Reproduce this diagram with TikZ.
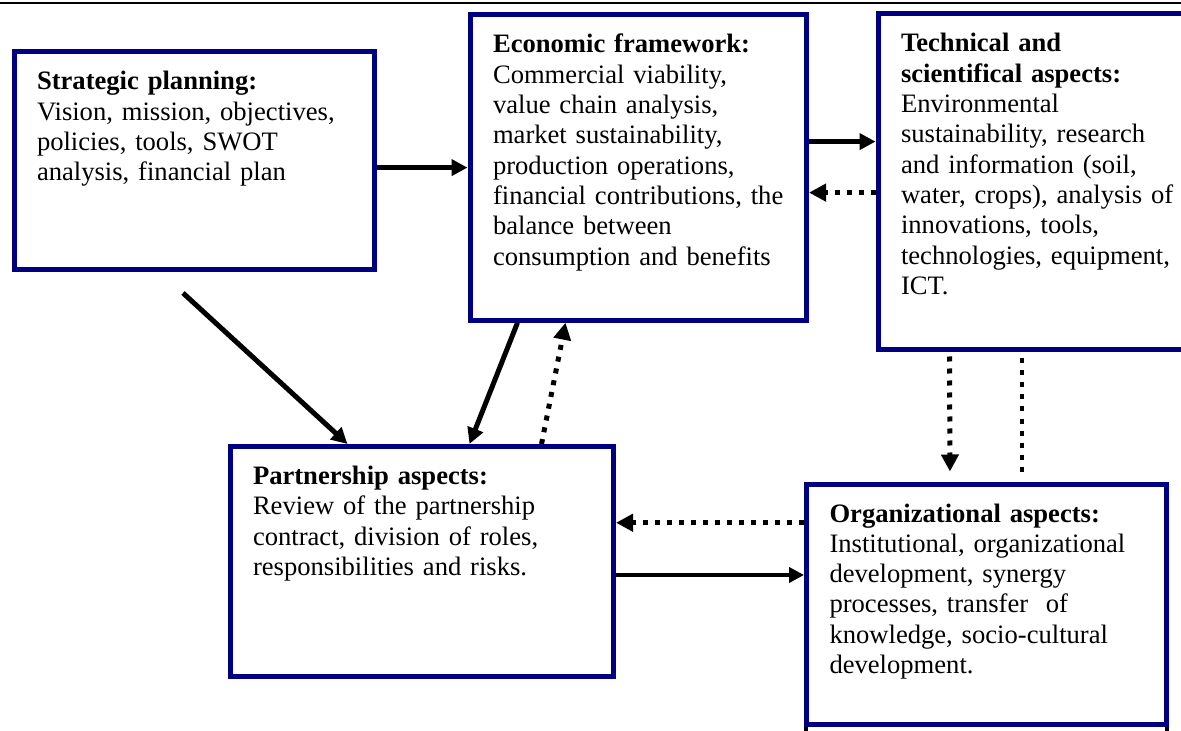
\documentclass[tikz,border=0pt]{standalone}
\usepackage{fontspec}
\setmainfont{Liberation Serif}
\usetikzlibrary{arrows.meta, positioning}
\definecolor{boxblue}{RGB}{0,0,128}

\begin{document}
\begin{tikzpicture}[x=0.5pt,y=-0.5pt,>={Triangle[length=8pt,width=8pt]},
	block/.style={draw=boxblue, line width=2.5pt, anchor=north west, align=left,
		inner xsep=11.5pt, inner ysep=0pt, outer sep=1.25pt, text height=19pt,
		font=\fontsize{13.3}{15.15}\selectfont},
	flow/.style={->, line width=2.5pt},
	thin flow/.style={->, line width=2pt, >={Triangle[length=7.5pt,width=7.5pt]}},
	feedback/.style={->, line width=2.5pt, dash pattern=on 2.5pt off 3.5pt,
		>={Triangle[length=8.5pt,width=8.5pt]}}]
	
	\clip (0,0) rectangle (1181,731);
	\draw [line width=1pt] (0,2.7) -- (1181,2.7);
	
	\node (sp) [block, text width=157.25pt, text depth=89.75pt] at (11.5,49.5)
		{\textbf{Strategic planning:}\\ Vision, mission, objectives,\\ policies, tools, SWOT\\ analysis, financial plan};
	\node (ef) [block, text width=145.25pt, text depth=133.6pt] at (467.5,12.5)
		{\textbf{Economic framework:}\\ Commercial viability,\\ value chain analysis,\\ market sustainability,\\ production operations,\\ financial contributions, the\\ balance between\\ consumption and benefits};
	\node (ts) [block, text width=150pt, text depth=149pt] at (875.5,11.5)
		{\textbf{Technical and}\\ \textbf{scientifical aspects:}\\ Environmental\\ sustainability, research\\ and information (soil,\\ water, crops), analysis of\\ innovations, tools,\\ technologies, equipment,\\ ICT.};
	\node (pa) [block, text width=168.75pt, text depth=96pt] at (227.5,444)
		{\textbf{Partnership aspects:}\\ Review of the partnership\\ contract, division of roles,\\ responsibilities and risks.};
	\node (oa) [block, text width=157pt, text depth=101.25pt] at (804,481.5)
		{\textbf{Organizational aspects:}\\ Institutional, organizational\\ development, synergy\\ processes, transfer\ \ of\\ knowledge, socio-cultural\\ development.};
	
	\coordinate (spfoot) at (183,293);
	
	\path [flow]
	(sp.east |- ef.west) edge (ef.west)
	([yshift=13pt]ef.east) edge ([yshift=13pt]ef.east -| ts.west)
	(spfoot) edge ([xshift=60pt]pa.north west)
	([xshift=25pt]ef.south west) edge ([xshift=121pt]pa.north west)
	([yshift=-6.75pt]pa.east) edge [thin flow] ([yshift=-6.75pt]pa.east -| oa.west);
	
	\path [feedback]
	([yshift=-12.5pt]ef.east -| ts.west) edge ([yshift=-12.5pt]ef.east)
	([xshift=157pt]pa.north west) edge ([xshift=49pt]ef.south west)
	([xshift=37pt]ts.south west) edge [shorten <=2pt, shorten >=5pt] ([xshift=73pt]oa.north west)
	([xshift=73.25pt]ts.south west) edge [-, line width=2.25pt, shorten <=3pt, shorten >=4.5pt] ([xshift=109pt]oa.north west)
	([yshift=40.75pt]oa.west) edge ([yshift=40.75pt]oa.west -| pa.east);
	
	\draw [line width=2pt] ([xshift=1pt]oa.south west) -- ++(0,8);
	\draw [line width=2pt] ([xshift=-1.25pt]oa.south east) -- ++(0,8);
\end{tikzpicture}
\end{document}
